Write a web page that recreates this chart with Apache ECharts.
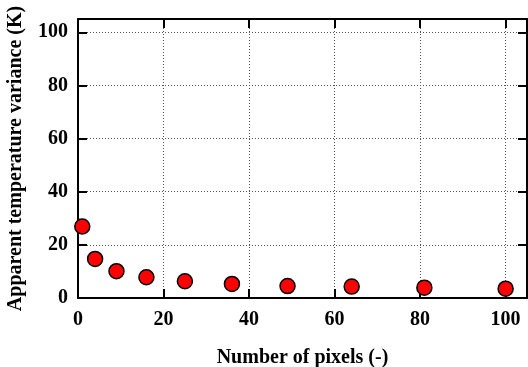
<!DOCTYPE html>
<html><head><meta charset="utf-8">
<script src="https://cdn.jsdelivr.net/npm/echarts@6/dist/echarts.min.js"></script>
<style>html,body{margin:0;padding:0;background:#fff}#c{width:528px;height:367px}</style>
</head><body><div id="c"></div>
<script>
const pixels = [1, 4, 9, 16, 25, 36, 49, 64, 81, 100];
const variance = [26.9, 14.7, 10.1, 7.8, 6.3, 5.3, 4.5, 4.3, 3.9, 3.5];
const xTitle = 'Number of pixels (-)';
const yTitle = 'Apparent temperature variance (K)';

const font = 'Liberation Serif';
const chart = echarts.init(document.getElementById('c'));
const lbl = v => (v % 20 === 0 ? String(v) : '');
const common = {
  min: 0, max: 105, interval: 20,
  axisLine: {show: true, onZero: false, lineStyle: {color: '#000', width: 2}},
  axisTick: {show: true, inside: true, length: 9, lineStyle: {color: '#000', width: 2}},
};
chart.setOption({
  animation: false,
  grid: {left: 78, top: 19, right: 1, bottom: 69, containLabel: false, outerBoundsMode: 'none'},
  xAxis: [
    Object.assign({}, common, {
      type: 'value', position: 'bottom',
      name: xTitle, nameLocation: 'middle', nameGap: 50,
      nameTextStyle: {fontFamily: font, fontWeight: 'bold', fontSize: 20, color: '#000'},
      axisLabel: {fontFamily: font, fontWeight: 'bold', fontSize: 20, color: '#000', margin: 12, showMaxLabel: false, formatter: lbl},
      splitLine: {show: true, lineStyle: {color: '#555', type: [1, 2], width: 1}}
    }),
    Object.assign({}, common, {
      type: 'value', position: 'top',
      axisLabel: {show: false}, splitLine: {show: false}
    })
  ],
  yAxis: [
    Object.assign({}, common, {
      type: 'value', position: 'left',
      name: yTitle, nameLocation: 'middle', nameGap: 52,
      nameTextStyle: {fontFamily: font, fontWeight: 'bold', fontSize: 20, color: '#000'},
      axisLabel: {fontFamily: font, fontWeight: 'bold', fontSize: 20, color: '#000', margin: 10, showMaxLabel: false, formatter: lbl},
      splitLine: {show: true, lineStyle: {color: '#555', type: [1, 2], width: 1}}
    }),
    Object.assign({}, common, {
      type: 'value', position: 'right',
      axisLabel: {show: false}, splitLine: {show: false}
    })
  ],
  series: [{
    type: 'scatter',
    data: pixels.map((p, i) => [p, variance[i]]),
    symbol: 'circle', symbolSize: 15,
    itemStyle: {color: '#ff0000', borderColor: '#000', borderWidth: 1.5, opacity: 1}
  }]
});
</script></body></html>
